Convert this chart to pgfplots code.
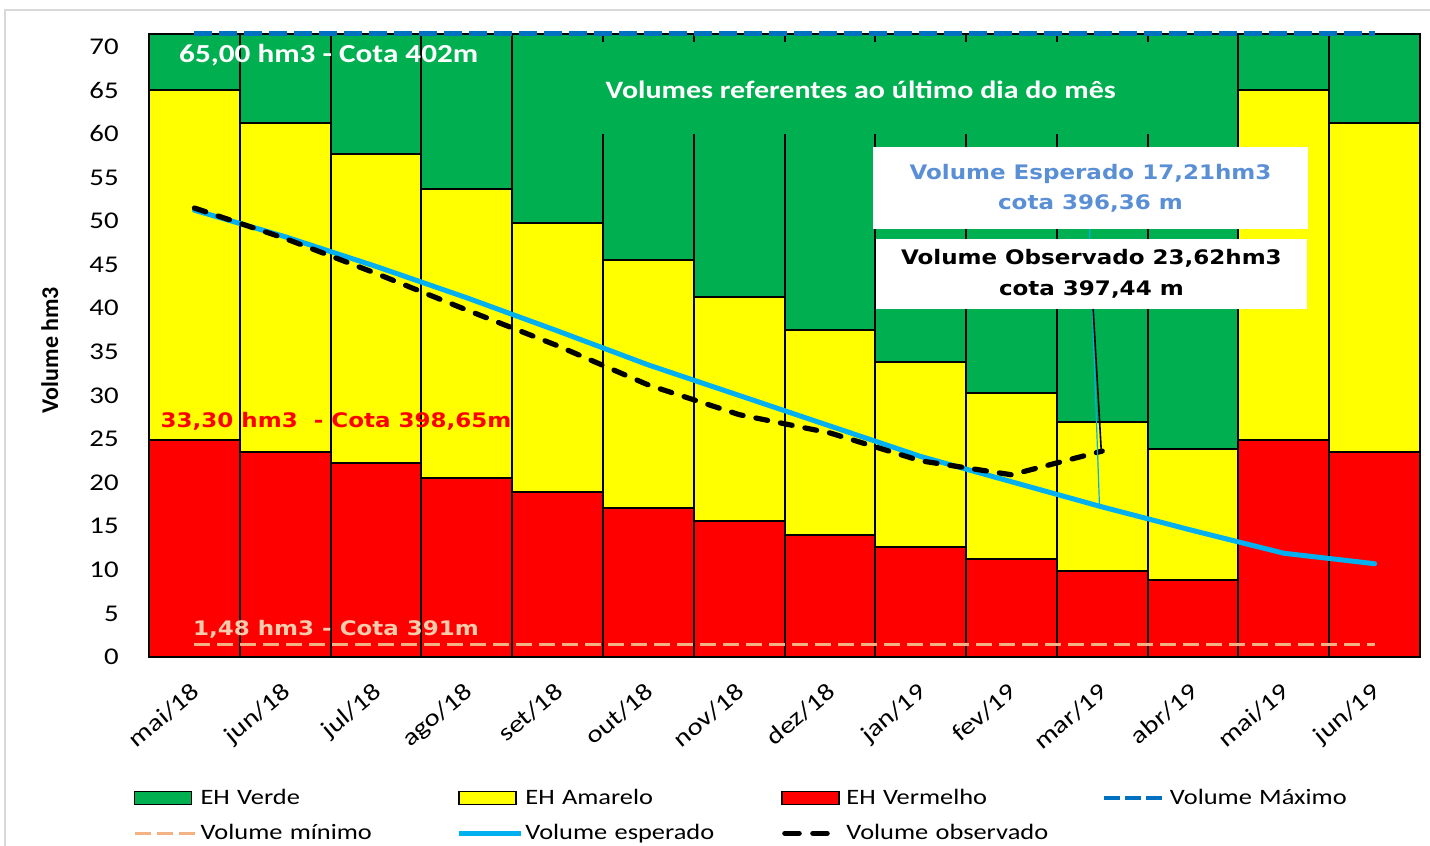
\documentclass[border=0pt]{standalone}
\usepackage{fontspec}
\setmainfont{Carlito}[FakeStretch=1.2]
\newfontfamily\carlitoplain{Carlito}
\newfontfamily\verd{DejaVu Sans}[FakeStretch=1.15]
\usepackage{pgfplots}
\pgfplotsset{compat=1.18}
\definecolor{gverde}{HTML}{00B050}
\definecolor{gamarelo}{HTML}{FFFF00}
\definecolor{gvermelho}{HTML}{FF0000}
\definecolor{maxblue}{HTML}{0070C0}
\definecolor{minpeach}{HTML}{F4B183}
\definecolor{minpeachtext}{HTML}{F8CBAD}
\definecolor{espline}{HTML}{00B0F0}
\definecolor{esptext}{HTML}{5A8FD6}
\definecolor{bordergray}{HTML}{D9D9D9}
\begin{document}
\begin{tikzpicture}
\path[use as bounding box] (0,0) rectangle (715pt,423pt);
\draw[bordergray, line width=1pt] (2.5pt,0pt) -- (2.5pt,418pt) -- (715pt,418pt);
\begin{axis}[
  at={(74.5pt,94.5pt)}, anchor=south west,
  scale only axis, width=635.5pt, height=311.25pt,
  xmin=-0.5, xmax=13.5, ymin=0, ymax=71.4,
  clip=false,
  axis lines*=left,
  x axis line style={draw=bordergray, line width=1pt},
  y axis line style={draw=black, line width=1pt},
  xtick={0,...,13},
  xticklabels={mai/18,jun/18,jul/18,ago/18,set/18,out/18,nov/18,dez/18,jan/19,fev/19,mar/19,abr/19,mai/19,jun/19},
  ytick={0,5,...,70},
  major tick length=0pt,
  /pgf/number format/assume math mode=true,
  tick label style={font=\fontsize{12pt}{14pt}\selectfont},
  xticklabel style={xshift=-2pt, yshift=-12pt, rotate=40, anchor=north east, inner sep=0pt},
  yticklabel style={anchor=east, inner sep=0pt, xshift=-15pt},
  ylabel={Volume hm3},
  ylabel style={at={(axis description cs:-0.078,0.493)}, anchor=center, font=\carlitoplain\bfseries\fontsize{12pt}{14pt}\selectfont},
  legend columns=4,
  legend cell align=left,
  legend style={at={(-0.0126,-0.2088)}, anchor=north west, draw=none, fill=none,
    inner sep=0pt, outer sep=0pt, row sep=6.5pt,
    font=\fontsize{11pt}{13pt}\selectfont,
    nodes={inner sep=1pt, text width=127pt, align=left},
    /tikz/every odd column/.append style={column sep=0pt}},
]
% green (top of stack = volume maximo)
\addplot[ybar, bar width=1, bar shift=0pt, fill=gverde, draw=black, line width=1pt, forget plot]
  coordinates {(0,71.4) (1,71.4) (2,71.4) (3,71.4) (4,71.4) (5,71.4) (6,71.4) (7,71.4) (8,71.4) (9,71.4) (10,71.4) (11,71.4) (12,71.4) (13,71.4)};
% yellow (cumulative top)
\addplot[ybar, bar width=1, bar shift=0pt, fill=gamarelo, draw=black, line width=1pt, forget plot]
  coordinates {(0,65.0) (1,61.2) (2,57.7) (3,53.7) (4,49.8) (5,45.5) (6,41.3) (7,37.5) (8,33.8) (9,30.3) (10,26.9) (11,23.9) (12,65.0) (13,61.2)};
% red
\addplot[ybar, bar width=1, bar shift=0pt, fill=gvermelho, draw=black, line width=1pt, forget plot]
  coordinates {(0,24.9) (1,23.5) (2,22.2) (3,20.5) (4,18.9) (5,17.1) (6,15.6) (7,14.0) (8,12.6) (9,11.25) (10,9.9) (11,8.8) (12,24.9) (13,23.5)};
% green label background
\fill[gverde] (axis cs:3.52,60.0) rectangle (axis cs:11.46,70.5);
% volume minimo
\addplot[minpeach, line width=1.5pt, dash pattern=on 8pt off 3.5pt, forget plot]
  coordinates {(0,1.48) (13,1.48)};
% volume maximo
\addplot[maxblue, line width=2.4pt, dash pattern=on 9pt off 3.5pt, forget plot]
  coordinates {(0,71.5) (13,71.5)};
% volume esperado
\addplot[espline, line width=2.5pt, line cap=round, line join=round, forget plot]
  coordinates {(0,51.25) (1,48.2) (2,44.8) (3,41.2) (4,37.4) (5,33.5) (6,30.0) (7,26.5) (8,23.0) (9,20.1) (10,17.21) (11,14.5) (12,11.9) (13,10.7)};
% volume observado
\addplot[black, line width=2.6pt, line cap=round, line join=round, dash pattern=on 6pt off 6.5pt, forget plot]
  coordinates {(0,51.5) (1,48.0) (2,44.0) (3,39.8) (4,35.7) (5,31.2) (6,27.8) (7,25.7) (8,22.5) (9,20.9) (10,23.62)};
% leader lines
\draw[espline, line width=0.6pt] (axis cs:9.86,49.1) -- (axis cs:9.97,17.2);
\draw[black, line width=0.8pt] (axis cs:9.90,39.9) -- (axis cs:9.99,23.5);
% boxes
\node[fill=white, minimum width=217.5pt, minimum height=41pt, align=center, text=esptext,
  font=\verd\bfseries\fontsize{10pt}{15pt}\selectfont] at (axis cs:9.87,53.8) {Volume Esperado 17,21hm3\\cota 396,36 m};
\node[fill=white, minimum width=215.5pt, minimum height=35pt, align=center, text=black,
  font=\verd\bfseries\fontsize{10pt}{15.5pt}\selectfont] at (axis cs:9.88,43.95) {Volume Observado 23,62hm3\\cota 397,44 m};
% labels
\node[text=white, font=\bfseries\fontsize{13pt}{15pt}\selectfont] at (axis cs:1.48,69.0) {65,00 hm3 - Cota 402m};
\node[text=white, font=\bfseries\fontsize{12.5pt}{14pt}\selectfont] at (axis cs:7.34,65.07) {Volumes referentes ao último dia do mês};
\node[text=gvermelho, font=\verd\bfseries\fontsize{10pt}{12pt}\selectfont] at (axis cs:1.56,27.08) {33,30 hm3\ \ - Cota 398,65m};
\node[text=minpeachtext, font=\verd\bfseries\fontsize{10pt}{12pt}\selectfont] at (axis cs:1.56,3.2) {1,48 hm3 - Cota 391m};
% legend
\addlegendimage{legend image code/.code={\draw[fill=gverde, draw=black, line width=0.6pt] (0pt,-3.2pt) rectangle (28.5pt,3.2pt); \path (31pt,0pt);}}
\addlegendentry{EH Verde}
\addlegendimage{legend image code/.code={\draw[fill=gamarelo, draw=black, line width=0.6pt] (0pt,-3.2pt) rectangle (28.5pt,3.2pt); \path (31pt,0pt);}}
\addlegendentry{EH Amarelo}
\addlegendimage{legend image code/.code={\draw[fill=gvermelho, draw=black, line width=0.6pt] (0pt,-3.2pt) rectangle (28.5pt,3.2pt); \path (31pt,0pt);}}
\addlegendentry{EH Vermelho}
\addlegendimage{legend image code/.code={\draw[maxblue, line width=1.8pt, dash pattern=on 8pt off 2.5pt] (0pt,0pt) -- (31pt,0pt);}}
\addlegendentry{Volume Máximo}
\addlegendimage{legend image code/.code={\draw[minpeach, line width=1.8pt, dash pattern=on 8pt off 3pt] (0pt,0pt) -- (31pt,0pt);}}
\addlegendentry{Volume mínimo}
\addlegendimage{legend image code/.code={\draw[espline, line width=2.4pt] (0pt,0pt) -- (31pt,0pt);}}
\addlegendentry{Volume esperado}
\addlegendimage{legend image code/.code={\draw[black, line width=2.8pt, line cap=round, dash pattern=on 7pt off 7pt] (1.5pt,0pt) -- (24pt,0pt); \path (0pt,0pt) (31pt,0pt);}}
\addlegendentry{Volume observado}
\end{axis}
\end{tikzpicture}
\end{document}
